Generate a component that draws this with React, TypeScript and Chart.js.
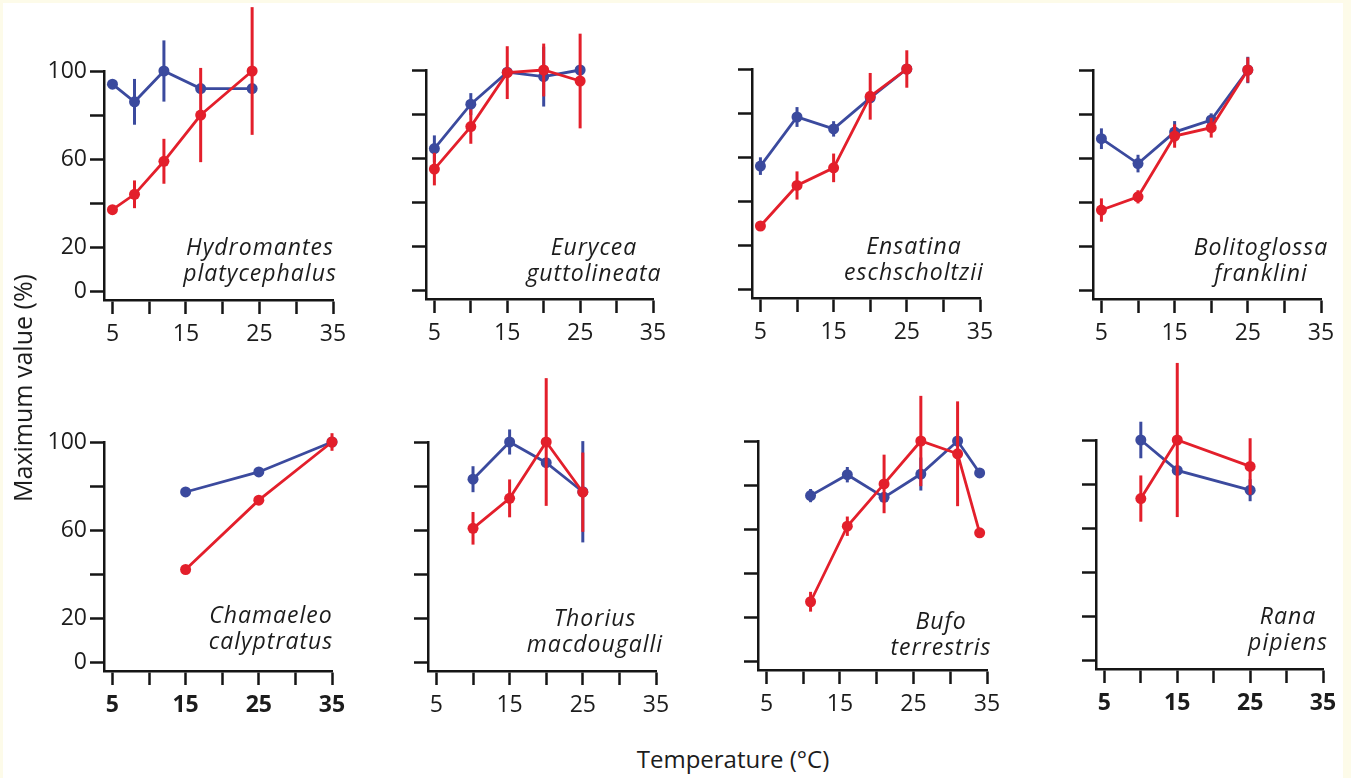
import React, { useEffect, useRef } from 'react';
import { Chart, registerables } from 'chart.js';
Chart.register(...registerables);

// ---- axis ticks ----
const xTicks = [5, 10, 15, 20, 25, 30, 35];
const xTickLabels = ['5', '', '15', '', '25', '', '35'];
const yTicks = [0, 20, 40, 60, 80, 100];
const yTickLabels = ['0', '20', '', '60', '', '100'];

// ---- Hydromantes platycephalus ----
const hydroTemps = [5, 8, 12, 17, 24];
const hydroBlue = [94, 86, 100, 92, 92];
const hydroBlueErr = [0, 10.4, 13.9, 0, 0];
const hydroRed = [37, 44, 59, 80, 100];
const hydroRedErr = [0, 6.3, 10.2, 21.4, 29];

// ---- Eurycea guttolineata ----
const euryTemps = [5, 10, 15, 20, 25];
const euryBlue = [64.3, 84.5, 99, 97, 100];
const euryBlueErr = [6, 5, 0, 13.6, 0];
const euryRed = [55, 74.3, 98.8, 100, 95];
const euryRedErr = [7.4, 7.8, 12, 12, 21.5];

// ---- Ensatina eschscholtzii ----
const ensaTemps = [5, 10, 15, 20, 25];
const ensaBlue = [55.9, 78.2, 72.8, 86.9, 100];
const ensaBlueErr = [4, 4.5, 3.5, 0, 0];
const ensaRed = [28.7, 47.1, 55.1, 87.6, 100];
const ensaRedErr = [0, 6.4, 6.5, 10.6, 8.5];

// ---- Bolitoglossa franklini ----
const boliTemps = [5, 10, 15, 20, 25];
const boliBlue = [68.8, 57.5, 71.8, 77.3, 100];
const boliBlueErr = [4.7, 4, 5, 3, 6];
const boliRed = [36.4, 42.4, 70, 73.8, 100];
const boliRedErr = [5.3, 3, 5.3, 4.5, 5.7];

// ---- Chamaeleo calyptratus ----
const chamTemps = [15, 25, 35];
const chamBlue = [77.3, 86.4, 100];
const chamBlueErr = [1.5, 1.5, 0];
const chamRed = [42.1, 73.6, 100];
const chamRedErr = [0, 1.5, 4];

// ---- Thorius macdougalli ----
const thorTemps = [10, 15, 20, 25];
const thorBlue = [83.1, 100, 90.6, 77.4];
const thorBlueErr = [5.9, 5.7, 0, 23];
const thorRed = [60.8, 74.4, 100, 77.2];
const thorRedErr = [7.4, 8.6, 29, 18];

// ---- Bufo terrestris ----
const bufoTemps = [11, 16, 21, 26, 31, 34];
const bufoBlue = [75.2, 84.7, 74.4, 85, 100, 85.5];
const bufoBlueErr = [3, 3.5, 0, 7.5, 0, 0];
const bufoRed = [27, 61.3, 80.5, 100, 94.2, 58.3];
const bufoRedErr = [4.5, 4.4, 13.3, 20.5, 23.8, 0];

// ---- Rana pipiens ----
const ranaTemps = [10, 15, 25];
const ranaBlue = [100, 86.2, 77.2];
const ranaBlueErr = [8.3, 0, 5];
const ranaRed = [73.4, 100, 88];
const ranaRedErr = [10.5, 35, 12.8];

const BLUE = '#3b4a9e';
const RED = '#e31f2b';
const AXIS = '#151515';
const TEXT = '#1c1c1c';
const FONT = '"Open Sans", "Noto Sans", sans-serif';

const YW = 90;
const XH = 60;
const PR = 25;

const errorBarPlugin = {
  id: 'errorBars',
  afterDatasetDraw(chart: any, args: any) {
    const ds = chart.data.datasets[args.index];
    const errs: number[] = ds.errors || [];
    const yScale = chart.scales.y;
    const ctx = chart.ctx;
    ctx.save();
    ctx.strokeStyle = ds.borderColor;
    ctx.lineWidth = 3;
    args.meta.data.forEach((pt: any, i: number) => {
      const e = errs[i];
      if (!e) return;
      const v = ds.data[i].y;
      ctx.beginPath();
      ctx.moveTo(pt.x, yScale.getPixelForValue(v + e));
      ctx.lineTo(pt.x, yScale.getPixelForValue(v - e));
      ctx.stroke();
    });
    ctx.restore();
  },
};

type PanelProps = {
  frame: { axisX: number; right: number; top: number; bottom: number; canvasTop: number };
  temps: number[];
  blue: number[];
  blueErr: number[];
  red: number[];
  redErr: number[];
  showY: boolean;
  boldX: boolean;
};

function Panel({ frame, temps, blue, blueErr, red, redErr, showY, boldX }: PanelProps) {
  const ref = useRef<HTMLCanvasElement>(null);
  const pt = frame.top - frame.canvasTop;
  const W = YW + (frame.right - frame.axisX) + PR;
  const H = pt + (frame.bottom - frame.top) + XH;

  useEffect(() => {
    if (!ref.current) return;
    const mk = (vals: number[], errs: number[], color: string) => ({
      data: temps.map((t, i) => ({ x: t, y: vals[i] })),
      errors: errs,
      borderColor: color,
      backgroundColor: color,
      borderWidth: 2.8,
      pointRadius: 5.5,
      pointHoverRadius: 5.5,
      pointBorderWidth: 0,
      tension: 0,
      clip: false,
    });
    const chart = new Chart(ref.current, {
      type: 'line',
      data: { datasets: [mk(red, redErr, RED), mk(blue, blueErr, BLUE)] as any },
      plugins: [errorBarPlugin],
      options: {
        responsive: false,
        animation: false,
        devicePixelRatio: 1,
        events: [],
        layout: { padding: { top: pt, right: PR, left: 0, bottom: 0 } },
        plugins: { legend: { display: false }, tooltip: { enabled: false } },
        scales: {
          x: {
            type: 'linear',
            min: 3.85,
            max: 35,
            afterBuildTicks: (s: any) => {
              s.ticks = xTicks.map((v) => ({ value: v }));
            },
            afterFit: (s: any) => {
              s.height = XH;
            },
            border: { display: true, color: AXIS, width: 2.5 },
            grid: { drawOnChartArea: false, drawTicks: true, tickLength: 14, tickWidth: 2.5, tickColor: AXIS },
            ticks: {
              autoSkip: false,
              maxRotation: 0,
              padding: 7,
              color: TEXT,
              font: { family: FONT, size: 23, weight: boldX ? 'bold' : 'normal' },
              callback: (_v: any, i: number) => xTickLabels[i],
            },
          },
          y: {
            type: 'linear',
            min: -4,
            max: 100,
            afterBuildTicks: (s: any) => {
              s.ticks = yTicks.map((v) => ({ value: v }));
            },
            afterFit: (s: any) => {
              s.width = YW;
            },
            border: { display: true, color: AXIS, width: 2.5 },
            grid: { drawOnChartArea: false, drawTicks: true, tickLength: 14, tickWidth: 2.5, tickColor: AXIS },
            ticks: {
              autoSkip: false,
              padding: 3,
              color: TEXT,
              font: { family: FONT, size: 23 },
              callback: (_v: any, i: number) => (showY ? yTickLabels[i] : ''),
            },
          },
        },
      } as any,
    });
    return () => chart.destroy();
  }, []);

  return (
    <div style={{ position: 'absolute', left: frame.axisX - YW, top: frame.canvasTop, width: W, height: H }}>
      <canvas ref={ref} width={W} height={H} />
    </div>
  );
}

const panels = [
  { name: ['Hydromantes', 'platycephalus'], label: [260, 247], frame: { axisX: 104, right: 333, top: 71, bottom: 300, canvasTop: 0 }, temps: hydroTemps, blue: hydroBlue, blueErr: hydroBlueErr, red: hydroRed, redErr: hydroRedErr, showY: true, boldX: false },
  { name: ['Eurycea', 'guttolineata'], label: [594, 247], frame: { axisX: 426, right: 653, top: 70, bottom: 299, canvasTop: 0 }, temps: euryTemps, blue: euryBlue, blueErr: euryBlueErr, red: euryRed, redErr: euryRedErr, showY: false, boldX: false },
  { name: ['Ensatina', 'eschscholtzii'], label: [914, 246], frame: { axisX: 752, right: 980, top: 69, bottom: 298, canvasTop: 0 }, temps: ensaTemps, blue: ensaBlue, blueErr: ensaBlueErr, red: ensaRed, redErr: ensaRedErr, showY: false, boldX: false },
  { name: ['Bolitoglossa', 'franklini'], label: [1261, 247], frame: { axisX: 1093, right: 1321, top: 70, bottom: 299, canvasTop: 0 }, temps: boliTemps, blue: boliBlue, blueErr: boliBlueErr, red: boliRed, redErr: boliRedErr, showY: false, boldX: false },
  { name: ['Chamaeleo', 'calyptratus'], label: [271, 615], frame: { axisX: 104, right: 332, top: 442, bottom: 671, canvasTop: 355 }, temps: chamTemps, blue: chamBlue, blueErr: chamBlueErr, red: chamRed, redErr: chamRedErr, showY: true, boldX: true },
  { name: ['Thorius', 'macdougalli'], label: [595, 618], frame: { axisX: 428, right: 656, top: 442, bottom: 671, canvasTop: 355 }, temps: thorTemps, blue: thorBlue, blueErr: thorBlueErr, red: thorRed, redErr: thorRedErr, showY: false, boldX: false },
  { name: ['Bufo', 'terrestris'], label: [941, 621], frame: { axisX: 758, right: 987, top: 441, bottom: 670, canvasTop: 355 }, temps: bufoTemps, blue: bufoBlue, blueErr: bufoBlueErr, red: bufoRed, redErr: bufoRedErr, showY: false, boldX: false },
  { name: ['Rana', 'pipiens'], label: [1288, 616], frame: { axisX: 1096, right: 1323, top: 440, bottom: 669, canvasTop: 355 }, temps: ranaTemps, blue: ranaBlue, blueErr: ranaBlueErr, red: ranaRed, redErr: ranaRedErr, showY: false, boldX: true },
];

export default function App() {
  return (
    <div style={{ position: 'absolute', left: 0, top: 0, width: 1351, height: 778, overflow: 'hidden', background: '#fdfbe9' }}>
      <div style={{ position: 'absolute', left: 3, top: 3, width: 1340, height: 775, background: '#ffffff' }} />
      {panels.map((p, k) => (
        <Panel key={k} frame={p.frame} temps={p.temps} blue={p.blue} blueErr={p.blueErr} red={p.red} redErr={p.redErr} showY={p.showY} boldX={p.boldX} />
      ))}
      {panels.map((p, k) => (
        <div
          key={'n' + k}
          style={{
            position: 'absolute',
            left: p.label[0] - 120,
            top: p.label[1] - 14,
            width: 240,
            textAlign: 'center',
            fontFamily: FONT,
            fontStyle: 'italic',
            fontSize: 23,
            lineHeight: '26px',
            letterSpacing: '1px',
            color: TEXT,
            whiteSpace: 'pre',
          }}
        >
          {p.name[0]}
          <br />
          {p.name[1]}
        </div>
      ))}
      <div
        style={{
          position: 'absolute',
          left: 22 - 150,
          top: 388 - 15,
          width: 300,
          height: 30,
          lineHeight: '30px',
          textAlign: 'center',
          transform: 'rotate(-90deg)',
          fontFamily: FONT,
          fontSize: 25,
          color: TEXT,
        }}
      >
        Maximum value (%)
      </div>
      <div
        style={{
          position: 'absolute',
          left: 733 - 150,
          top: 760 - 16,
          width: 300,
          height: 30,
          lineHeight: '30px',
          textAlign: 'center',
          fontFamily: FONT,
          fontSize: 24,
          color: TEXT,
        }}
      >
        Temperature (°C)
      </div>
    </div>
  );
}
